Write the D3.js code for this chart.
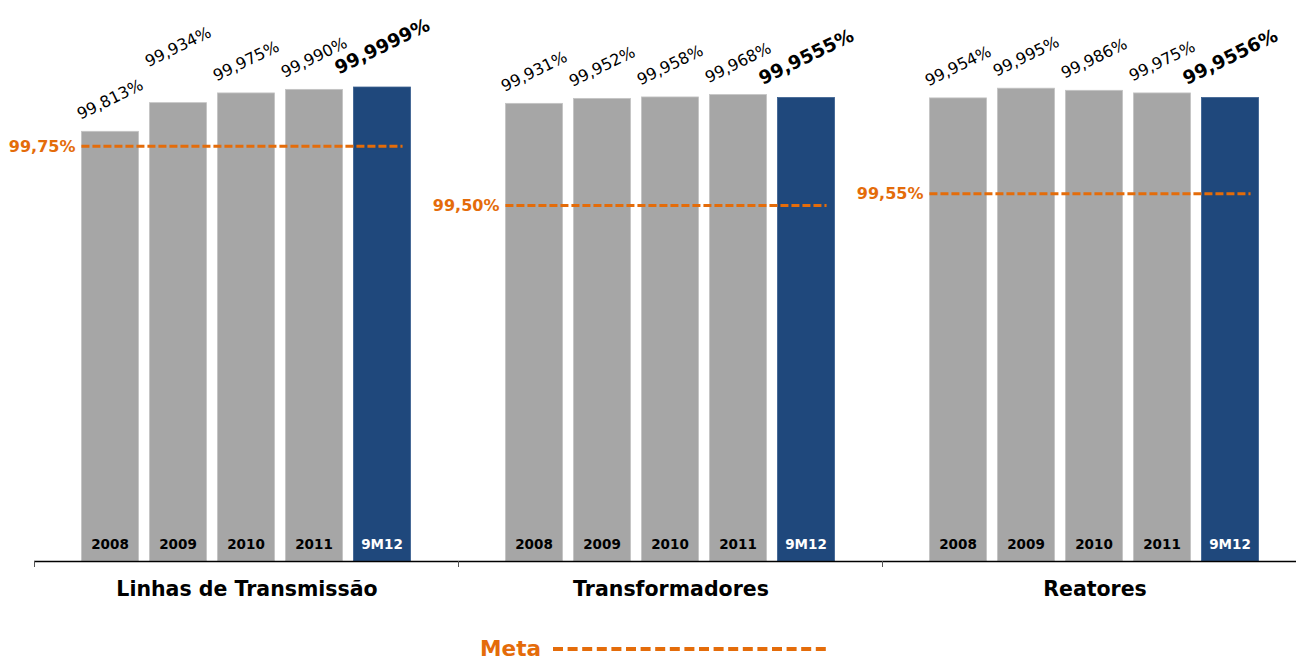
<!DOCTYPE html>
<html>
<head>
<meta charset="utf-8">
<script src="https://cdn.jsdelivr.net/npm/d3@7"></script>
<style>
body { margin: 0; background: #fff; }
svg { display: block; font-family: 'DejaVu Sans', Verdana, sans-serif; }
.val { font-size: 16px; fill: #000; }
.val.last { font-size: 18.5px; font-weight: bold; }
.year { font-size: 13.5px; font-weight: bold; fill: #000; }
.year.last { fill: #fff; }
.cat { font-size: 20.5px; font-weight: bold; fill: #000; }
.meta-label { font-size: 16px; font-weight: bold; fill: #E46C0A; }
.meta-line { stroke: #E46C0A; stroke-width: 3; stroke-dasharray: 8,3; fill: none; }
</style>
</head>
<body>
<svg width="1296" height="660"></svg>
<script>
//Chart values.
var groups = ['Linhas de Transmissão', 'Transformadores', 'Reatores'];
var periods = ['2008', '2009', '2010', '2011', '9M12'];
var linhasValues = [99.813, 99.934, 99.975, 99.990, 99.9999];
var transformadoresValues = [99.931, 99.952, 99.958, 99.968, 99.9555];
var reatoresValues = [99.954, 99.995, 99.986, 99.975, 99.9556];
var metaValues = [99.75, 99.50, 99.55];
var legendLabel = 'Meta';

var seriesValues = [linhasValues, transformadoresValues, reatoresValues];

var svg = d3.select('svg');
var width = +svg.attr('width'), height = +svg.attr('height');
var baseY = 561, topY = 87;
var orange = '#E46C0A', grey = '#A6A6A6', navy = '#1F487C';

//Outer scale: one band per group; inner scale: one band per period.
var x0 = d3.scaleBand().domain(groups).range([34, 34 + 3 * 424]);
var x1 = d3.scaleBand().domain(periods)
	.range([42, 382]).paddingInner(0.16).paddingOuter(0.08);
var y = d3.scaleLinear().domain([98, 100]).range([baseY, topY]);

var fmt = function(v, decimals) { return v.toFixed(decimals).replace('.', ','); };
//The 2009 label over the first group sits higher in the original.
var extraLift = {'0-1': 24};

var g = svg.selectAll('g.group')
	.data(groups)
	.enter().append('g')
	.attr('class', 'group')
	.attr('transform', function(d) { return 'translate(' + x0(d) + ',0)'; });

g.each(function(groupName, gi) {
	var sel = d3.select(this);
	var rows = periods.map(function(p, i) {
		return {period: p, value: seriesValues[gi][i], last: i === periods.length - 1, i: i};
	});

	//Bars.
	sel.selectAll('rect')
		.data(rows)
		.enter().append('rect')
		.attr('x', function(d) { return x1(d.period); })
		.attr('y', function(d) { return y(d.value); })
		.attr('width', x1.bandwidth())
		.attr('height', function(d) { return baseY - y(d.value); })
		.attr('fill', function(d) { return d.last ? navy : grey; })
		.attr('stroke', function(d) { return d.last ? '#3A5F8F' : '#C4C4C4'; })
		.attr('stroke-width', 0.8);

	//Period labels inside the bars.
	sel.selectAll('text.year')
		.data(rows)
		.enter().append('text')
		.attr('class', function(d) { return d.last ? 'year last' : 'year'; })
		.attr('x', function(d) { return x1(d.period) + x1.bandwidth() / 2; })
		.attr('y', baseY - 12)
		.attr('text-anchor', 'middle')
		.text(function(d) { return d.period; });

	//Rotated value labels above the bars.
	sel.selectAll('text.val')
		.data(rows)
		.enter().append('text')
		.attr('class', function(d) { return d.last ? 'val last' : 'val'; })
		.attr('text-anchor', 'middle')
		.attr('dominant-baseline', 'central')
		.attr('transform', function(d) {
			var lift = (d.last ? 41 : 32) + (extraLift[gi + '-' + d.i] || 0);
			return 'translate(' + (x1(d.period) + x1.bandwidth() / 2) + ',' + (y(d.value) - lift) + ') rotate(-26)';
		})
		.text(function(d) { return fmt(d.value, d.last ? 4 : 3) + '%'; });

	//Target (meta) line and its label.
	var xStart = x1(periods[0]), xEnd = x1(periods[periods.length - 1]) + x1.bandwidth() - 8;
	sel.append('line')
		.attr('class', 'meta-line')
		.attr('x1', xStart).attr('x2', xEnd)
		.attr('y1', y(metaValues[gi])).attr('y2', y(metaValues[gi]));
	sel.append('text')
		.attr('class', 'meta-label')
		.attr('x', xStart - 6)
		.attr('y', y(metaValues[gi]))
		.attr('text-anchor', 'end')
		.attr('dominant-baseline', 'central')
		.text(fmt(metaValues[gi], 2) + '%');

	//Category label below the axis.
	sel.append('text')
		.attr('class', 'cat')
		.attr('x', x0.bandwidth() / 2 + 1)
		.attr('y', 596)
		.attr('text-anchor', 'middle')
		.text(groupName);
});

//Category axis: base line with ticks at the group boundaries.
svg.append('line')
	.attr('x1', 34).attr('x2', width)
	.attr('y1', baseY + 0.5).attr('y2', baseY + 0.5)
	.attr('stroke', '#000').attr('stroke-width', 1.3);
svg.selectAll('line.tick')
	.data(groups)
	.enter().append('line')
	.attr('class', 'tick')
	.attr('x1', function(d) { return x0(d) + 0.5; })
	.attr('x2', function(d) { return x0(d) + 0.5; })
	.attr('y1', baseY).attr('y2', baseY + 6)
	.attr('stroke', '#555').attr('stroke-width', 1);

//Legend.
svg.append('text')
	.attr('x', 480).attr('y', 656)
	.attr('font-size', '21.6px').attr('font-weight', 'bold')
	.attr('fill', orange)
	.text(legendLabel);
svg.append('line')
	.attr('x1', 553).attr('x2', 830)
	.attr('y1', 649).attr('y2', 649)
	.attr('stroke', orange).attr('stroke-width', 4)
	.attr('stroke-dasharray', '10,4.6');
</script>
</body>
</html>
